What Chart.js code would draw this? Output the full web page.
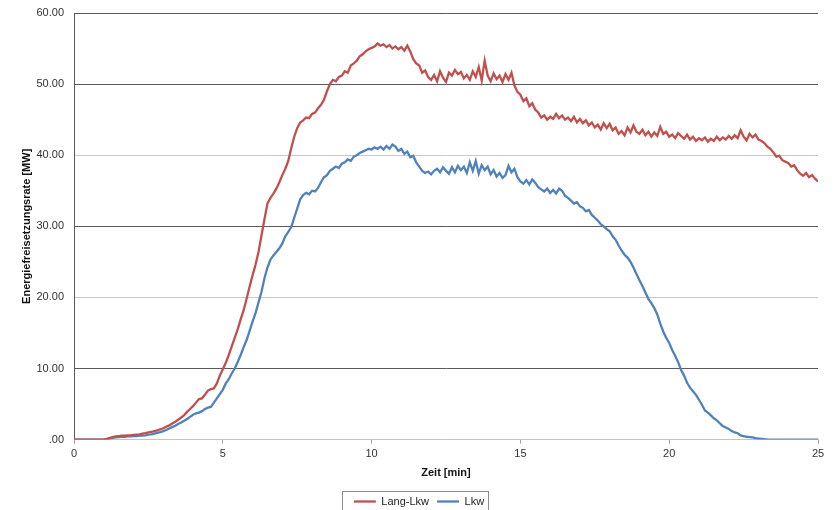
<!DOCTYPE html>
<html>
<head>
<meta charset="utf-8">
<script src="https://cdn.jsdelivr.net/npm/chart.js@4.4.1/dist/chart.umd.min.js"></script>
<style>
    html, body { margin: 0; padding: 0; background: #ffffff; }
    #wrap { width: 835px; height: 510px; position: relative; }
</style>
</head>
<body>
<div id="wrap"><canvas id="grafik"></canvas></div>
<script>
// Abtastung der Zeitachse [min]
const zeitStart = 0;
const zeitSchritt = 0.1;

// Energiefreisetzungsrate [MW], Lang-Lkw
const langLkw = [
    0, 0, 0, 0, 0, 0, 0, 0, 0, 0,
    0, 0.1, 0.25, 0.35, 0.45, 0.5, 0.55, 0.55, 0.6, 0.6,
    0.65, 0.7, 0.75, 0.85, 0.9, 1.0, 1.1, 1.2, 1.3, 1.45,
    1.6, 1.8, 2.0, 2.25, 2.5, 2.8, 3.1, 3.45, 3.9, 4.3,
    4.7, 5.2, 5.7, 5.8, 6.3, 6.9, 7.1, 7.2, 7.9, 9.0,
    9.9, 10.8, 11.9, 13.1, 14.3, 15.5, 16.9, 18.2, 19.8, 21.5,
    23.1, 24.6, 26.4, 28.7, 31.0, 33.2, 34.0, 34.6, 35.3, 36.2,
    37.2, 38.1, 39.2, 41.0, 42.6, 43.8, 44.6, 44.9, 45.3, 45.2,
    45.8, 46.0, 46.6, 47.1, 47.8, 49.0, 50.0, 50.6, 50.4, 51.0,
    51.2, 51.8, 51.6, 52.6, 52.9, 53.3, 53.9, 54.2, 54.6, 54.9,
    55.1, 55.3, 55.7, 55.4, 55.6, 55.2, 55.5, 55.0, 55.3, 54.9,
    55.2, 54.7, 55.4, 54.6, 53.5, 52.9, 52.6, 51.6, 51.9, 51.0,
    50.6, 51.3, 50.4, 51.8, 50.9, 50.3, 51.6, 51.2, 52.0, 51.4,
    51.7, 50.8, 51.3, 50.6, 51.8, 51.0, 52.4, 50.5, 53.3, 51.2,
    50.4, 51.5, 50.7, 51.2, 50.3, 51.4, 50.6, 51.6, 49.8, 48.9,
    48.5, 47.6, 48.0, 46.9, 47.3, 46.4, 46.0, 45.3, 45.6, 45.0,
    45.4, 45.1, 45.8, 45.2, 45.6, 45.0, 45.3, 44.8, 45.4, 44.6,
    45.1, 44.5, 44.9, 44.2, 44.6, 43.9, 44.3, 43.6, 44.5, 43.8,
    44.4, 43.5, 43.9, 43.0, 43.4, 42.8, 43.9, 43.2, 44.2, 43.3,
    43.0, 43.6, 42.8, 43.3, 42.6, 43.2, 42.7, 44.0, 43.0, 43.3,
    42.6, 42.9, 42.4, 43.1, 42.7, 42.3, 42.9, 42.2, 42.6, 42.0,
    42.4, 42.1, 42.5, 41.9, 42.3, 42.0, 42.6, 42.1, 42.5, 42.2,
    42.7, 42.3, 42.8, 42.4, 43.5, 42.6, 42.1, 43.0, 42.5, 42.9,
    42.2, 42.0, 41.7, 41.2, 40.9, 40.4, 39.8, 39.9, 39.3, 39.1,
    38.9, 38.4, 38.6, 37.9, 37.4, 37.1, 37.5, 36.9, 37.2, 36.7,
    36.3
];

// Energiefreisetzungsrate [MW], Lkw
const lkw = [
    0, 0, 0, 0, 0, 0, 0, 0, 0, 0,
    0, 0.05, 0.15, 0.25, 0.3, 0.35, 0.4, 0.4, 0.45, 0.45,
    0.5, 0.5, 0.55, 0.55, 0.6, 0.7, 0.75, 0.85, 0.95, 1.05,
    1.2, 1.35, 1.55, 1.75, 1.95, 2.2, 2.4, 2.65, 2.9, 3.2,
    3.5, 3.7, 3.8, 4.0, 4.3, 4.5, 4.6, 5.2, 5.8, 6.4,
    7.0, 7.9, 8.5, 9.3, 10.0, 10.9, 11.9, 13.0, 14.0, 15.3,
    16.6, 17.8, 19.3, 20.8, 22.7, 24.2, 25.3, 25.9, 26.4, 26.9,
    27.6, 28.6, 29.2, 29.9, 31.2, 32.5, 33.8, 34.4, 34.7, 34.5,
    35.0, 34.9, 35.4, 36.2, 36.9, 37.2, 37.8, 38.1, 38.4, 38.2,
    38.8, 39.0, 39.4, 39.2, 39.8, 40.0, 40.3, 40.5, 40.7, 40.9,
    40.8, 41.1, 40.9, 41.2, 40.8, 41.3, 40.9, 41.5, 41.2, 40.6,
    40.9, 40.2, 40.5, 39.7, 39.9, 39.0, 38.4, 37.8, 37.5, 37.7,
    37.3, 37.8, 38.1, 37.6, 38.3, 37.8, 37.4, 38.3, 37.6, 38.5,
    37.9, 38.4, 37.5, 39.0, 37.8, 39.2, 37.4, 38.6, 37.9, 38.4,
    37.3, 37.9, 37.0, 37.5, 36.8, 37.2, 38.5, 37.6, 38.1, 36.9,
    36.3, 36.0, 36.5, 35.9, 36.6, 36.1, 35.5, 35.2, 34.9, 35.3,
    34.7, 35.1, 34.6, 35.3, 35.0, 34.3, 34.0, 33.6, 33.2, 33.4,
    32.8, 32.6, 32.1, 32.3, 31.6, 31.2, 30.8, 30.3, 30.0, 29.6,
    29.3, 28.6, 28.1, 27.3, 26.6, 26.0, 25.6, 25.0, 24.2, 23.3,
    22.4, 21.6, 20.7, 19.8, 19.2, 18.5, 17.6, 16.3, 15.2, 14.3,
    13.6, 12.6, 11.8, 10.9, 9.8, 9.0, 8.0, 7.3, 6.8, 6.3,
    5.6, 4.9, 4.1, 3.8, 3.4, 3.0, 2.7, 2.3, 1.9, 1.7,
    1.5, 1.2, 1.0, 0.9, 0.6, 0.5, 0.4, 0.35, 0.3, 0.2,
    0.15, 0.1, 0.05, 0.02, 0, 0, 0, 0, 0, 0,
    0, 0, 0, 0, 0, 0, 0, 0, 0, 0,
    0
];

const serienNamen = ['Lang-Lkw', 'Lkw'];
const serienFarben = ['#C0504D', '#4F81BD'];
const yTicks = [0, 10, 20, 30, 40, 50, 60];
const xTicks = [0, 5, 10, 15, 20, 25];

const schrift = "'Liberation Sans', Arial, sans-serif";

function alsPunkte(werte) {
    return werte.map((v, i) => ({ x: +(zeitStart + i * zeitSchritt).toFixed(2), y: v }));
}

// Rahmen um die Legende (wie im Excel-Original)
const legendenRahmen = {
    id: 'legendenRahmen',
    afterDraw(chart) {
        const boxes = chart.legend && chart.legend.legendHitBoxes;
        if (!boxes || !boxes.length) return;
        let links = Infinity, rechts = -Infinity, oben = Infinity, unten = -Infinity;
        boxes.forEach(b => {
            links = Math.min(links, b.left);
            rechts = Math.max(rechts, b.left + b.width);
            oben = Math.min(oben, b.top);
            unten = Math.max(unten, b.top + b.height);
        });
        const ctx = chart.ctx;
        ctx.save();
        ctx.strokeStyle = '#8c8c8c';
        ctx.lineWidth = 1;
        ctx.strokeRect(Math.round(links - 12) + 0.5, Math.round(oben - 5) + 0.5,
            Math.round(rechts - links + 16), Math.round(unten - oben + 10));
        ctx.restore();
    }
};

new Chart(document.getElementById('grafik'), {
    type: 'line',
    data: {
        datasets: [
            {
                label: serienNamen[0],
                data: alsPunkte(langLkw),
                borderColor: serienFarben[0],
                backgroundColor: serienFarben[0],
                borderWidth: 2.3,
                pointRadius: 0,
                tension: 0
            },
            {
                label: serienNamen[1],
                data: alsPunkte(lkw),
                borderColor: serienFarben[1],
                backgroundColor: serienFarben[1],
                borderWidth: 2.3,
                pointRadius: 0,
                tension: 0
            }
        ]
    },
    options: {
        responsive: true,
        maintainAspectRatio: false,
        animation: false,
        layout: { padding: { left: 20, right: 17, top: 13, bottom: -7 } },
        plugins: {
            tooltip: { enabled: false },
            legend: {
                position: 'bottom',
                labels: {
                    usePointStyle: true,
                    pointStyle: 'line',
                    pointStyleWidth: 22,
                    boxHeight: 2,
                    padding: 8,
                    color: '#222',
                    font: { family: schrift, size: 11 }
                }
            }
        },
        scales: {
            x: {
                type: 'linear',
                min: 0,
                max: 25,
                afterBuildTicks: axis => { axis.ticks = xTicks.map(v => ({ value: v })); },
                ticks: {
                    color: '#333',
                    padding: 4,
                    font: { family: schrift, size: 11 }
                },
                grid: {
                    drawOnChartArea: false,
                    drawTicks: true,
                    tickLength: 4,
                    color: '#a0a0a0'
                },
                border: { color: '#c4c4c4', width: 1 },
                title: {
                    display: true,
                    text: 'Zeit [min]',
                    color: '#111',
                    font: { family: schrift, size: 11, weight: 'bold' },
                    padding: { top: 2, bottom: 8 }
                }
            },
            y: {
                min: 0,
                max: 60,
                afterBuildTicks: axis => { axis.ticks = yTicks.map(v => ({ value: v })); },
                afterFit: scale => {
                    scale.width = 54;
                    scale.paddingTop = 0;
                },
                ticks: {
                    color: '#333',
                    padding: 10,
                    font: { family: schrift, size: 11 },
                    callback: v => v === 0 ? '.00' : v.toFixed(2)
                },
                grid: {
                    drawTicks: false,
                    lineWidth: 1,
                    color: ctx => {
                        const v = ctx.tick ? ctx.tick.value : 0;
                        return (v === 20 || v === 40 || v === 0) ? '#c8c8c8' : '#5a5a5a';
                    }
                },
                border: { color: '#5a5a5a', width: 1 },
                title: {
                    display: true,
                    text: 'Energiefreisetzungsrate [MW]',
                    color: '#111',
                    font: { family: schrift, size: 11, weight: 'bold' },
                    padding: { top: 0, bottom: 0 }
                }
            }
        }
    },
    plugins: [legendenRahmen]
});
</script>
</body>
</html>
